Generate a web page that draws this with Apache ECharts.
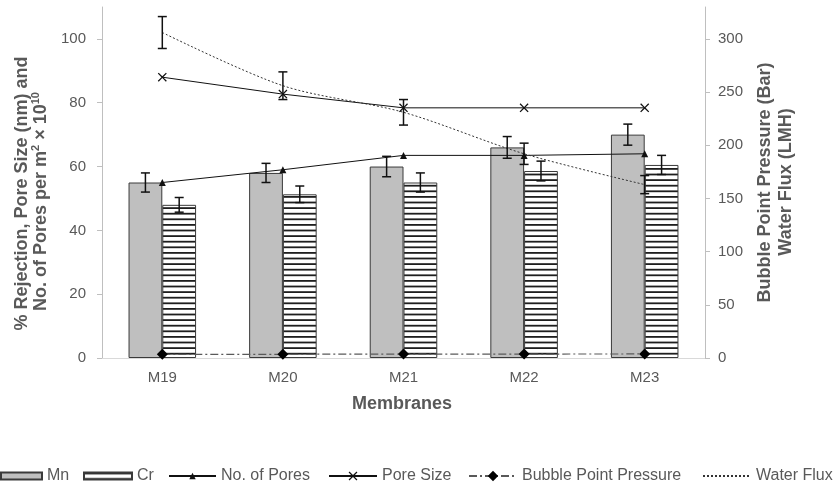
<!DOCTYPE html>
<html>
<head>
<meta charset="utf-8">
<script src="https://cdn.jsdelivr.net/npm/echarts@6/dist/echarts.min.js"></script>
<style>
html, body { margin: 0; padding: 0; background: #fff; }
#chart { width: 838px; height: 489px; }
</style>
</head>
<body>
<div id="chart"></div>
<script>
// Membrane performance: rejection bars with error bars, pore lines, flux and bubble point
const categories = ['M19', 'M20', 'M21', 'M22', 'M23'];
const mnRejection = [55, 58, 60, 66, 70];
const mnError = [3, 3, 3.2, 3.4, 3.3];
const crRejection = [48, 51.3, 55, 58.6, 60.5];
const crError = [2.3, 2.6, 3, 3.1, 3];
const poreCount = [55, 59, 63.5, 63.5, 64];
const poreSize = [88, 82.7, 78.4, 78.4, 78.4];
const bubblePoint = [3.5, 3.5, 3.7, 3.7, 3.8];
const waterFlux = [306, 256, 231, 192, 163];
const waterFluxError = [15, 13, 12, 10, 8.5];
const leftTicks = [0, 20, 40, 60, 80, 100];
const rightTicks = [0, 50, 100, 150, 200, 250, 300];

const FONT = '"Liberation Sans", Arial, sans-serif';
const TEXT = '#595959';

// horizontal line hatching for the Cr bars
function hatchPattern() {
  const c = document.createElement('canvas');
  c.width = 8; c.height = 28;
  const g = c.getContext('2d');
  g.fillStyle = '#ffffff';
  g.fillRect(0, 0, 8, 28);
  g.fillStyle = '#1e1e1e';
  for (let k = 0; k < 5; k++) g.fillRect(0, k * 5.6, 8, 1.8);
  return c;
}

function errorRange(means, errs) {
  return means.map((m, i) => [i, m - errs[i], m + errs[i]]);
}

// draws an I-shaped error bar, shifted sideways by a fraction of the category band
function errorBars(offsetRatio) {
  return function (params, api) {
    const i = api.value(0);
    const band = api.size([1, 0])[0];
    const lo = api.coord([i, api.value(1)]);
    const hi = api.coord([i, api.value(2)]);
    const x = lo[0] + band * offsetRatio;
    const cap = 4.5;
    const style = { stroke: '#111', lineWidth: 1.5 };
    return {
      type: 'group',
      children: [
        { type: 'line', shape: { x1: x, y1: lo[1], x2: x, y2: hi[1] }, style },
        { type: 'line', shape: { x1: x - cap, y1: lo[1], x2: x + cap, y2: lo[1] }, style },
        { type: 'line', shape: { x1: x - cap, y1: hi[1], x2: x + cap, y2: hi[1] }, style }
      ]
    };
  };
}

const crossSymbol = 'path://M1,0L5,4L9,0L10,1L6,5L10,9L9,10L5,6L1,10L0,9L4,5L0,1Z';

const legendBase = {
  top: 468, padding: 0, itemGap: 0, selectedMode: false,
  textStyle: { fontSize: 16, color: TEXT, fontFamily: FONT }
};

const chart = echarts.init(document.getElementById('chart'), null, { renderer: 'canvas' });
chart.setOption({
  animation: false,
  textStyle: { fontFamily: FONT },
  grid: { left: 102, right: 133, top: 7, bottom: 131 },
  legend: [
    Object.assign({}, legendBase, { left: 0, itemWidth: 41, itemHeight: 7, data: [{ name: 'Mn', icon: 'rect' }] }),
    Object.assign({}, legendBase, { left: 83, itemWidth: 48, itemHeight: 7, data: [{ name: 'Cr', icon: 'rect' }] }),
    Object.assign({}, legendBase, { left: 168, itemWidth: 47, itemHeight: 8, data: ['No. of Pores'] }),
    Object.assign({}, legendBase, { left: 328, itemWidth: 48, itemHeight: 11, data: ['Pore Size'] }),
    Object.assign({}, legendBase, { left: 468, itemWidth: 48, itemHeight: 13, data: ['Bubble Point Pressure'] }),
    Object.assign({}, legendBase, { left: 702, itemWidth: 48, itemHeight: 8, data: [{ name: 'Water Flux', itemStyle: { opacity: 0 } }] })
  ],
  xAxis: {
    type: 'category',
    data: categories,
    axisLine: { lineStyle: { color: '#d9d9d9', width: 1 } },
    axisTick: { show: false },
    axisLabel: { margin: 12, fontSize: 15, color: TEXT }
  },
  yAxis: [
    {
      type: 'value', min: 0, max: 110,
      axisLine: { show: true, lineStyle: { color: '#bfbfbf' } },
      axisTick: { show: true, length: 5, lineStyle: { color: '#bfbfbf' }, customValues: leftTicks },
      axisLabel: { margin: 16, fontSize: 15, color: TEXT, customValues: leftTicks },
      splitLine: { show: false }
    },
    {
      type: 'value', min: 0, max: 330, position: 'right',
      axisLine: { show: true, lineStyle: { color: '#bfbfbf' } },
      axisTick: { show: true, length: 5, lineStyle: { color: '#bfbfbf' }, customValues: rightTicks },
      axisLabel: { margin: 13, fontSize: 15, color: TEXT, customValues: rightTicks },
      splitLine: { show: false }
    }
  ],
  series: [
    {
      name: 'Mn', type: 'bar', data: mnRejection, barWidth: '28%', barGap: '0%',
      itemStyle: { color: '#bfbfbf', borderColor: '#3a3a3a', borderWidth: 1 }
    },
    {
      name: 'Cr', type: 'bar', data: crRejection, barWidth: '28%', barGap: '0%',
      itemStyle: { color: { image: hatchPattern(), repeat: 'repeat' }, borderColor: '#3a3a3a', borderWidth: 1 }
    },
    {
      name: 'No. of Pores', type: 'line', data: poreCount,
      symbol: 'triangle', symbolSize: 7,
      lineStyle: { color: '#111', width: 1 }, itemStyle: { color: '#111' }
    },
    {
      name: 'Pore Size', type: 'line', data: poreSize,
      symbol: crossSymbol, symbolSize: 9,
      lineStyle: { color: '#111', width: 1 }, itemStyle: { color: '#111' }
    },
    {
      name: 'Bubble Point Pressure', type: 'line', yAxisIndex: 1, data: bubblePoint,
      symbol: 'diamond', symbolSize: 11,
      lineStyle: { color: '#595959', width: 1.2, type: [8, 3, 2, 3] }, itemStyle: { color: '#000' }
    },
    {
      name: 'Water Flux', type: 'line', yAxisIndex: 1, data: waterFlux,
      smooth: 0.3, symbol: 'circle', symbolSize: 0, showSymbol: false,
      lineStyle: { color: '#333', width: 1, type: [2, 2] }, itemStyle: { color: '#333' }
    },
    {
      name: 'Mn error', type: 'custom', data: errorRange(mnRejection, mnError),
      encode: { x: 0, y: [1, 2] }, renderItem: errorBars(-0.14), z: 5
    },
    {
      name: 'Cr error', type: 'custom', data: errorRange(crRejection, crError),
      encode: { x: 0, y: [1, 2] }, renderItem: errorBars(0.14), z: 5
    },
    {
      name: 'Water Flux error', type: 'custom', yAxisIndex: 1, data: errorRange(waterFlux, waterFluxError),
      encode: { x: 0, y: [1, 2] }, renderItem: errorBars(0), z: 5
    }
  ],
  graphic: [
    {
      type: 'text', x: 22, y: 193.5, rotation: Math.PI / 2,
      style: { text: '% Rejection, Pore Size (nm) and', fontSize: 18, fontWeight: 'bold', fontFamily: FONT,
        fill: TEXT, align: 'center', verticalAlign: 'middle' }
    },
    {
      type: 'text', x: 41, y: 201.5, rotation: Math.PI / 2,
      style: { text: 'No. of Pores per m{sup|2} × 10{sup|10}', fontSize: 18, fontWeight: 'bold', fontFamily: FONT,
        fill: TEXT, align: 'center', verticalAlign: 'middle', lineHeight: 22,
        rich: { sup: { fontSize: 11, fontWeight: 'bold', fontFamily: FONT, fill: TEXT, verticalAlign: 'top', lineHeight: 13 } } }
    },
    {
      type: 'text', x: 765, y: 182.5, rotation: Math.PI / 2,
      style: { text: 'Bubble Point Pressure (Bar)', fontSize: 18, fontWeight: 'bold', fontFamily: FONT,
        fill: TEXT, align: 'center', verticalAlign: 'middle' }
    },
    {
      type: 'text', x: 786, y: 182, rotation: Math.PI / 2,
      style: { text: 'Water Flux (LMH)', fontSize: 18, fontWeight: 'bold', fontFamily: FONT,
        fill: TEXT, align: 'center', verticalAlign: 'middle' }
    },
    {
      type: 'text', x: 402, y: 404,
      style: { text: 'Membranes', fontSize: 18, fontWeight: 'bold', fontFamily: FONT,
        fill: TEXT, align: 'center', verticalAlign: 'middle' }
    }
  ]
});
</script>
</body>
</html>
